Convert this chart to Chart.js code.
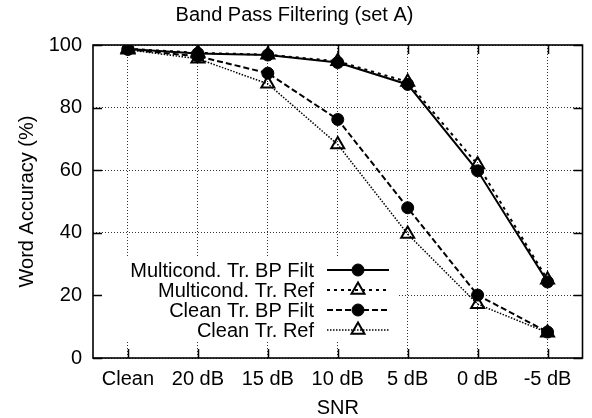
<!DOCTYPE html>
<html>
<head>
<meta charset="utf-8">
<script src="https://cdn.jsdelivr.net/npm/chart.js@4.4.0/dist/chart.umd.min.js"></script>
<style>
  body { margin: 0; background: #fff; }
  #wrap { width: 592px; height: 418px; }
</style>
</head>
<body>
<div id="wrap"><canvas id="myChart"></canvas></div>
<script>
// data
var categories = ['Clean', '20 dB', '15 dB', '10 dB', '5 dB', '0 dB', '-5 dB'];
var multiBP  = [98.7, 97.3, 96.8, 94.4, 87.4, 59.8, 24.3];
var multiRef = [98.8, 97.5, 96.9, 94.8, 88.2, 61.8, 25.0];
var cleanBP  = [98.6, 96.4, 91.0, 76.2, 48.0, 20.1, 8.3];
var cleanRef = [98.5, 95.6, 87.6, 68.2, 39.6, 17.2, 8.1];
var seriesLabels = ['Multicond. Tr. BP Filt', 'Multicond. Tr. Ref', 'Clean Tr. BP Filt', 'Clean Tr. Ref'];
var yTicks = [0, 20, 40, 60, 80, 100];

var textFont = "'Liberation Sans', Arial, Helvetica, sans-serif";

// gnuplot look: full frame, inward tics, key inside with white box
var gnuplotBox = {
  id: 'gnuplotBox',
  beforeDatasetsDraw: function(chart) {
    var ctx = chart.ctx, a = chart.chartArea;
    ctx.save();
    ctx.fillStyle = '#fff';
    ctx.fillRect(a.left + 1, 258, 398 - a.left, 84);
    ctx.restore();
  },
  afterDatasetsDraw: function(chart) {
    var ctx = chart.ctx;
    ctx.save();
    ctx.font = '20px ' + textFont;
    ctx.textAlign = 'right';
    ctx.textBaseline = 'middle';
    chart.data.datasets.forEach(function(ds, i) {
      var y = 270 + i * 20;
      ctx.fillStyle = '#000';
      ctx.fillText(ds.label, 314, y + 1);
      ctx.strokeStyle = '#000';
      ctx.lineWidth = ds.borderWidth;
      ctx.setLineDash(ds.borderDash || []);
      ctx.beginPath();
      ctx.moveTo(327, y);
      ctx.lineTo(389, y);
      ctx.stroke();
      ctx.setLineDash([]);
      ctx.fillStyle = ds.pointBackgroundColor;
      ctx.lineWidth = ds.pointBorderWidth;
      Chart.helpers.drawPoint(ctx, {
        pointStyle: ds.pointStyle,
        radius: ds.pointRadius,
        rotation: 0,
        borderWidth: ds.pointBorderWidth
      }, 358, y);
    });
    ctx.restore();
  },
  afterDraw: function(chart) {
    var ctx = chart.ctx, a = chart.chartArea;
    var xs = chart.scales.x, ys = chart.scales.y;
    ctx.save();
    ctx.strokeStyle = '#000';
    ctx.lineWidth = 1.5;
    ctx.beginPath();
    xs.ticks.forEach(function(t, i) {
      var x = Math.round(xs.getPixelForTick(i)) + 0.5;
      ctx.moveTo(x, a.bottom); ctx.lineTo(x, a.bottom - 9);
      ctx.moveTo(x, a.top); ctx.lineTo(x, a.top + 9);
    });
    ys.ticks.forEach(function(t) {
      var y = Math.round(ys.getPixelForValue(t.value)) + 0.5;
      ctx.moveTo(a.left, y); ctx.lineTo(a.left + 9, y);
      ctx.moveTo(a.right, y); ctx.lineTo(a.right - 9, y);
    });
    ctx.stroke();
    ctx.lineWidth = 1.6;
    ctx.strokeRect(a.left, a.top, a.right - a.left, a.bottom - a.top);
    ctx.restore();
  }
};

var ctx = document.getElementById('myChart').getContext('2d');
var myChart = new Chart(ctx, {
  type: 'line',
  data: {
    labels: categories,
    datasets: [{
      label: seriesLabels[0],
      data: multiBP,
      borderColor: '#000',
      borderWidth: 2,
      pointStyle: 'circle',
      pointRadius: 6,
      pointBackgroundColor: '#000',
      pointBorderColor: '#000',
      pointBorderWidth: 1
    }, {
      label: seriesLabels[1],
      data: multiRef,
      borderColor: '#000',
      borderWidth: 2,
      borderDash: [3, 4],
      pointStyle: 'triangle',
      pointRadius: 7.5,
      pointBackgroundColor: 'rgba(0,0,0,0)',
      pointBorderColor: '#000',
      pointBorderWidth: 2
    }, {
      label: seriesLabels[2],
      data: cleanBP,
      borderColor: '#000',
      borderWidth: 2,
      borderDash: [6, 3],
      pointStyle: 'circle',
      pointRadius: 6,
      pointBackgroundColor: '#000',
      pointBorderColor: '#000',
      pointBorderWidth: 1
    }, {
      label: seriesLabels[3],
      data: cleanRef,
      borderColor: '#000',
      borderWidth: 1.5,
      borderDash: [1.5, 1.5],
      pointStyle: 'triangle',
      pointRadius: 7.5,
      pointBackgroundColor: 'rgba(0,0,0,0)',
      pointBorderColor: '#000',
      pointBorderWidth: 2
    }]
  },
  options: {
    responsive: true,
    maintainAspectRatio: false,
    animation: false,
    layout: { padding: { left: 0, right: 3, top: 0, bottom: 0 } },
    plugins: {
      legend: { display: false },
      tooltip: { enabled: false },
      title: {
        display: true,
        text: 'Band Pass Filtering (set A)',
        color: '#000',
        font: { family: textFont, size: 20, weight: 'normal' },
        padding: { top: 3, bottom: 18 }
      }
    },
    elements: { line: { tension: 0 } },
    scales: {
      x: {
        type: 'category',
        offset: true,
        grid: { offset: false, color: '#333', lineWidth: 1, drawTicks: false },
        border: { display: false, dash: [1, 2] },
        ticks: { color: '#000', padding: 9, font: { family: textFont, size: 20 }, maxRotation: 0, autoSkip: false },
        title: {
          display: true,
          text: 'SNR',
          color: '#000',
          font: { family: textFont, size: 20, lineHeight: 1 },
          padding: { top: 0, bottom: 0 }
        },
        afterFit: function(scale) { scale.height = 60; }
      },
      y: {
        min: 0,
        max: 100,
        afterBuildTicks: function(scale) {
          scale.ticks = yTicks.map(function(v) { return { value: v }; });
        },
        grid: { color: '#333', lineWidth: 1, drawTicks: false },
        border: { display: false, dash: [1, 2] },
        ticks: { color: '#000', padding: 11, font: { family: textFont, size: 20 } },
        title: {
          display: true,
          text: 'Word Accuracy (%)',
          color: '#000',
          font: { family: textFont, size: 20 },
          padding: { top: 15, bottom: 0 }
        },
        afterFit: function(scale) { scale.width = 93; }
      }
    }
  },
  plugins: [gnuplotBox]
});
</script>
</body>
</html>
